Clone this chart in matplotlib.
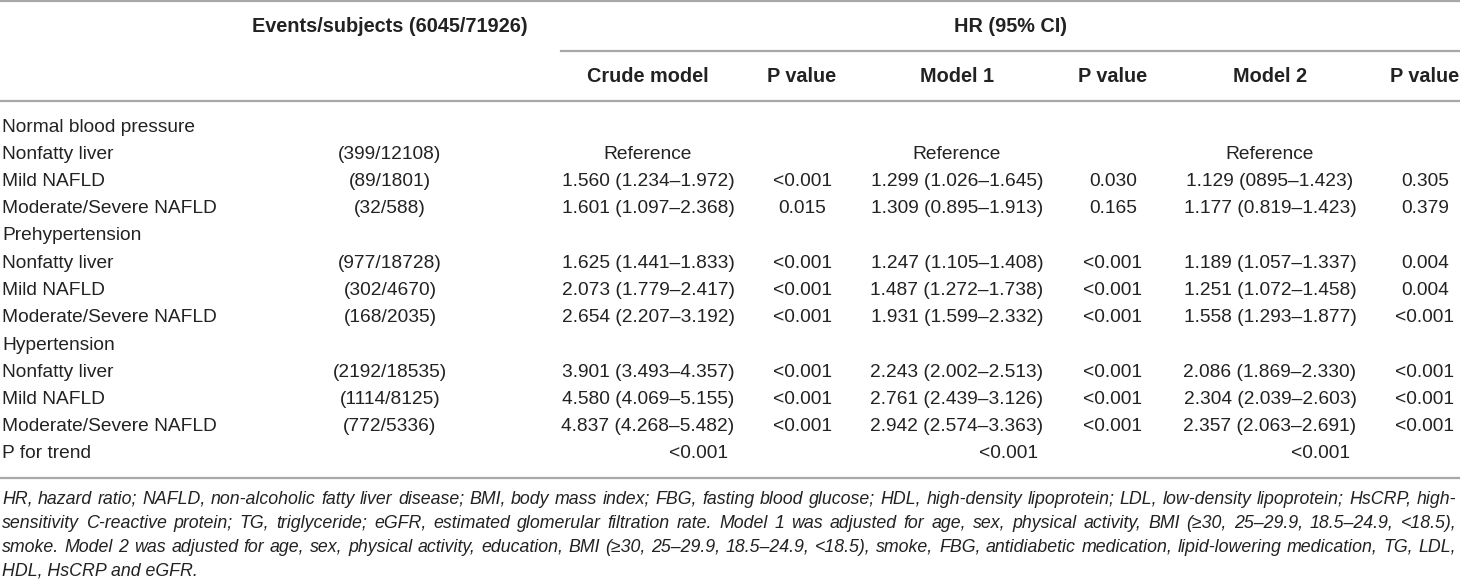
import matplotlib
matplotlib.use("Agg")
import matplotlib.pyplot as plt

# TABLE CONTENT
row_labels = ["Normal blood pressure", "Nonfatty liver", "Mild NAFLD", "Moderate/Severe NAFLD",
              "Prehypertension", "Nonfatty liver", "Mild NAFLD", "Moderate/Severe NAFLD",
              "Hypertension", "Nonfatty liver", "Mild NAFLD", "Moderate/Severe NAFLD",
              "P for trend"]
events = ["", "(399/12108)", "(89/1801)", "(32/588)",
          "", "(977/18728)", "(302/4670)", "(168/2035)",
          "", "(2192/18535)", "(1114/8125)", "(772/5336)", ""]
crude_hr = ["", "Reference", "1.560 (1.234–1.972)", "1.601 (1.097–2.368)",
            "", "1.625 (1.441–1.833)", "2.073 (1.779–2.417)", "2.654 (2.207–3.192)",
            "", "3.901 (3.493–4.357)", "4.580 (4.069–5.155)", "4.837 (4.268–5.482)", ""]
crude_p = ["", "", "<0.001", "0.015",
           "", "<0.001", "<0.001", "<0.001",
           "", "<0.001", "<0.001", "<0.001", ""]
m1_hr = ["", "Reference", "1.299 (1.026–1.645)", "1.309 (0.895–1.913)",
         "", "1.247 (1.105–1.408)", "1.487 (1.272–1.738)", "1.931 (1.599–2.332)",
         "", "2.243 (2.002–2.513)", "2.761 (2.439–3.126)", "2.942 (2.574–3.363)", ""]
m1_p = ["", "", "0.030", "0.165",
        "", "<0.001", "<0.001", "<0.001",
        "", "<0.001", "<0.001", "<0.001", ""]
m2_hr = ["", "Reference", "1.129 (0895–1.423)", "1.177 (0.819–1.423)",
         "", "1.189 (1.057–1.337)", "1.251 (1.072–1.458)", "1.558 (1.293–1.877)",
         "", "2.086 (1.869–2.330)", "2.304 (2.039–2.603)", "2.357 (2.063–2.691)", ""]
m2_p = ["", "", "0.305", "0.379",
        "", "0.004", "0.004", "<0.001",
        "", "<0.001", "<0.001", "<0.001", ""]
trend_p = ["<0.001", "<0.001", "<0.001"]

header_top = ["Events/subjects (6045/71926)", "HR (95% CI)"]
header_sub = ["Crude model", "P value", "Model 1", "P value", "Model 2", "P value"]

footnote = [
    "HR, hazard ratio; NAFLD, non-alcoholic fatty liver disease; BMI, body mass index; FBG, fasting blood glucose; HDL, high-density lipoprotein; LDL, low-density lipoprotein; HsCRP, high-",
    "sensitivity C-reactive protein; TG, triglyceride; eGFR, estimated glomerular filtration rate. Model 1 was adjusted for age, sex, physical activity, BMI (≥30, 25–29.9, 18.5–24.9, <18.5),",
    "smoke. Model 2 was adjusted for age, sex, physical activity, education, BMI (≥30, 25–29.9, 18.5–24.9, <18.5), smoke, FBG, antidiabetic medication, lipid-lowering medication, TG, LDL,",
    "HDL, HsCRP and eGFR.",
]

# LAYOUT (PIXELS)
W, H = 1460, 587
txt_col = "#222222"
rule_col = "#a8a8a8"
fs = 13.8
fs_bold = 14.3
fs_note = 12.8
col_x = [390, 648, 802, 957, 1113, 1270, 1425]
trend_x = [698, 1009, 1321]
row_y0 = 127
row_step = 27.25

fig = plt.figure(figsize=(W / 100, H / 100), dpi=100)
ax = fig.add_axes([0, 0, 1, 1])
ax.set_xlim(0, W)
ax.set_ylim(H, 0)
ax.axis("off")

# RULES
ax.plot([0, W], [1.2, 1.2], color=rule_col, lw=1.6)
ax.plot([561, W], [51, 51], color=rule_col, lw=1.6)
ax.plot([0, W], [100.5, 100.5], color=rule_col, lw=1.6)
ax.plot([0, W], [478, 478], color=rule_col, lw=1.6)

# HEADERS
ax.text(390, 26, header_top[0], ha="center", va="center", fontsize=fs_bold,
        fontweight="bold", family="Liberation Sans", color=txt_col)
ax.text(1010, 26, header_top[1], ha="center", va="center", fontsize=fs_bold,
        fontweight="bold", family="Liberation Sans", color=txt_col)
for k in range(len(header_sub)):
    ax.text(col_x[k + 1], 76, header_sub[k], ha="center", va="center", fontsize=fs_bold,
            fontweight="bold", family="Liberation Sans", color=txt_col)

# BODY
cols = [events, crude_hr, crude_p, m1_hr, m1_p, m2_hr, m2_p]
for i in range(len(row_labels)):
    y = row_y0 + i * row_step
    ax.text(2, y, row_labels[i], ha="left", va="center", fontsize=fs,
            family="Liberation Sans", color=txt_col)
    for c in range(len(cols)):
        if cols[c][i]:
            ax.text(col_x[c], y, cols[c][i], ha="center", va="center", fontsize=fs,
                    family="Liberation Sans", color=txt_col)
y_trend = row_y0 + (len(row_labels) - 1) * row_step
for k in range(len(trend_p)):
    ax.text(trend_x[k], y_trend, trend_p[k], ha="center", va="center", fontsize=fs,
            family="Liberation Sans", color=txt_col)

# FOOTNOTE (JUSTIFIED EXCEPT LAST LINE)
fig.canvas.draw()
renderer = fig.canvas.get_renderer()
left, right = 2, 1456
note_y = [499, 523, 547, 571]
for n in range(len(footnote)):
    words = footnote[n].split(" ")
    if n == len(footnote) - 1:
        ax.text(left, note_y[n], footnote[n], ha="left", va="center", fontsize=fs_note,
                style="italic", family="Liberation Sans", color=txt_col)
        continue
    objs = []
    widths = []
    for w in words:
        t = ax.text(0, note_y[n], w, ha="left", va="center", fontsize=fs_note,
                    style="italic", family="Liberation Sans", color=txt_col)
        widths.append(t.get_window_extent(renderer).width)
        objs.append(t)
    gap = (right - left - sum(widths)) / (len(words) - 1)
    x = left
    for t, wd in zip(objs, widths):
        t.set_x(x)
        x += wd + gap

fig.savefig("out.png", dpi=100)
